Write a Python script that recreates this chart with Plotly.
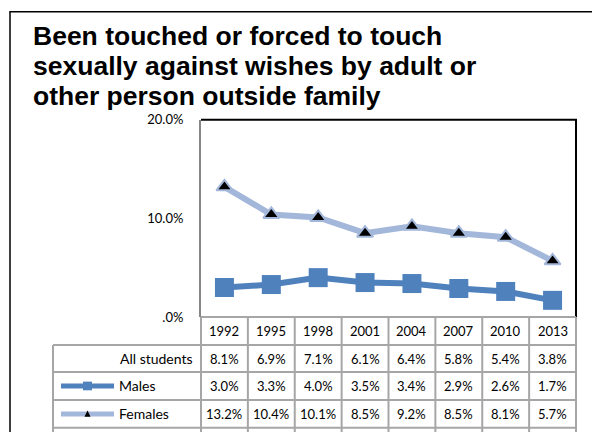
import plotly.graph_objects as go

years = ['1992', '1995', '1998', '2001', '2004', '2007', '2010', '2013']
all_students = [8.1, 6.9, 7.1, 6.1, 6.4, 5.8, 5.4, 3.8]
males = [3.0, 3.3, 4.0, 3.5, 3.4, 2.9, 2.6, 1.7]
females = [13.2, 10.4, 10.1, 8.5, 9.2, 8.5, 8.1, 5.7]
y_ticks = [0, 10, 20]
y_tick_labels = ['.0%', '10.0%', '20.0%']
title_lines = ['Been touched or forced to touch',
               'sexually against wishes by adult or',
               'other person outside family']
row_labels = ['All students', 'Males', 'Females']

W, H = 592, 432
# plot area / table geometry in pixels
PL, PR, PT, PB = 201, 576, 116, 321
TL = 53
ROWS = [321, 350, 378, 407, 436]
COLW = (PR - PL) / len(years)

MALE_C = '#4F81BD'
FEM_C = '#A3B7DA'
GRID_C = '#A6A6A6'
TXT_FONT = 'Lato'


def fx(px):
    return px / W


def fy(py):
    return 1 - py / H


fig = go.Figure()
fig.add_trace(go.Scatter(
    x=years, y=males, mode='lines+markers', name='Males',
    line=dict(color=MALE_C, width=6),
    marker=dict(symbol='square', size=19, color=MALE_C),
    cliponaxis=False,
))
fig.add_trace(go.Scatter(
    x=years, y=females, mode='lines+markers', name='Females',
    line=dict(color=FEM_C, width=6),
    marker=dict(symbol='triangle-up', size=14, color='black',
                line=dict(color=FEM_C, width=2)),
    cliponaxis=False,
))

shapes = []
# outer chart frame (right and bottom edges fall outside the picture)
shapes.append(dict(type='rect', xref='paper', yref='paper',
                   x0=fx(10), x1=fx(620), y0=fy(4), y1=fy(460),
                   line=dict(color='black', width=1.5)))
# plot frame top and right
shapes.append(dict(type='line', xref='paper', yref='paper',
                   x0=fx(PL), x1=fx(PR + 1), y0=fy(PT), y1=fy(PT),
                   line=dict(color='black', width=2)))
shapes.append(dict(type='line', xref='paper', yref='paper',
                   x0=fx(PR), x1=fx(PR), y0=fy(PT), y1=fy(PB),
                   line=dict(color='black', width=2)))
# table horizontal lines
for i, ry in enumerate(ROWS):
    x0 = PL if i == 0 else TL
    shapes.append(dict(type='line', xref='paper', yref='paper',
                       x0=fx(x0), x1=fx(PR), y0=fy(ry), y1=fy(ry),
                       line=dict(color=GRID_C, width=2)))
# table vertical lines
shapes.append(dict(type='line', xref='paper', yref='paper',
                   x0=fx(TL), x1=fx(TL), y0=fy(ROWS[1]), y1=fy(450),
                   line=dict(color=GRID_C, width=2)))
for k in range(len(years) + 1):
    vx = PL + k * COLW
    shapes.append(dict(type='line', xref='paper', yref='paper',
                       x0=fx(vx), x1=fx(vx), y0=fy(PB), y1=fy(450),
                       line=dict(color=GRID_C, width=2)))


# legend keys inside the table
def key_line(row, color):
    cy = (ROWS[row] + ROWS[row + 1]) / 2
    shapes.append(dict(type='line', xref='paper', yref='paper',
                       x0=fx(61), x1=fx(114), y0=fy(cy), y1=fy(cy),
                       line=dict(color=color, width=5)))
    return cy


cy = key_line(2, MALE_C)
shapes.append(dict(type='rect', xref='paper', yref='paper',
                   x0=fx(83), x1=fx(92), y0=fy(cy - 4.5), y1=fy(cy + 4.5),
                   fillcolor=MALE_C, line=dict(width=0)))
cy = key_line(3, FEM_C)
shapes.append(dict(type='path', xref='paper', yref='paper',
                   path=f'M {fx(84.5)} {fy(cy + 3)} L {fx(90.5)} {fy(cy + 3)} '
                        f'L {fx(87.5)} {fy(cy - 3.5)} Z',
                   fillcolor='black', line=dict(width=0)))

annotations = []
for i, line in enumerate(title_lines):
    annotations.append(dict(
        text=f'<b>{line}</b>', xref='paper', yref='paper',
        x=fx(32), y=fy(29 + 31 * i), borderpad=0,
        xanchor='left', yanchor='middle', align='left', showarrow=False,
        font=dict(family='Liberation Sans, Arial', size=26.5, color='black'),
    ))

row_values = [all_students, males, females]
tfont = dict(family=TXT_FONT, size=13, color='black')
lfont = dict(family=TXT_FONT, size=14, color='black')
for j, yr in enumerate(years):
    annotations.append(dict(
        text=yr, xref='x', yref='paper', x=j,
        y=fy((ROWS[0] + ROWS[1]) / 2), xanchor='center', yanchor='middle',
        showarrow=False, font=tfont))
for r, (lab, vals) in enumerate(zip(row_labels, row_values)):
    cy = (ROWS[r + 1] + ROWS[r + 2]) / 2
    if r == 0:
        annotations.append(dict(text=lab, xref='paper', yref='paper',
                                x=fx(195), y=fy(cy), xanchor='right',
                                yanchor='middle', showarrow=False,
                                font=lfont))
    else:
        annotations.append(dict(text=lab, xref='paper', yref='paper',
                                x=fx(117), y=fy(cy), xanchor='left',
                                yanchor='middle', showarrow=False,
                                font=lfont))
    for j, v in enumerate(vals):
        annotations.append(dict(text=f'{v:.1f}%', xref='x', yref='paper',
                                x=j, y=fy(cy), xanchor='center',
                                yanchor='middle', showarrow=False,
                                font=tfont))

fig.update_layout(
    width=W, height=H,
    margin=dict(l=0, r=0, t=0, b=0),
    paper_bgcolor='white', plot_bgcolor='white',
    showlegend=False,
    shapes=shapes,
    annotations=annotations,
    xaxis=dict(type='category', domain=[fx(PL), fx(PR)], range=[-0.5, 7.5],
               showticklabels=False, showgrid=False, zeroline=False,
               showline=False, fixedrange=True),
    yaxis=dict(domain=[fy(PB), fy(PT)], range=[0, 20],
               tickvals=y_ticks, ticktext=y_tick_labels,
               showgrid=False, zeroline=False,
               showline=True, linecolor='#868686', linewidth=2,
               ticks='', ticklabelstandoff=13,
               tickfont=dict(family=TXT_FONT, size=13, color='black'),
               fixedrange=True),
)

# drop the page's default 8px body margin so the figure fills the window
fig.write_html('out.html', config={'displayModeBar': False},
               post_script="document.body.style.margin = '0';")
